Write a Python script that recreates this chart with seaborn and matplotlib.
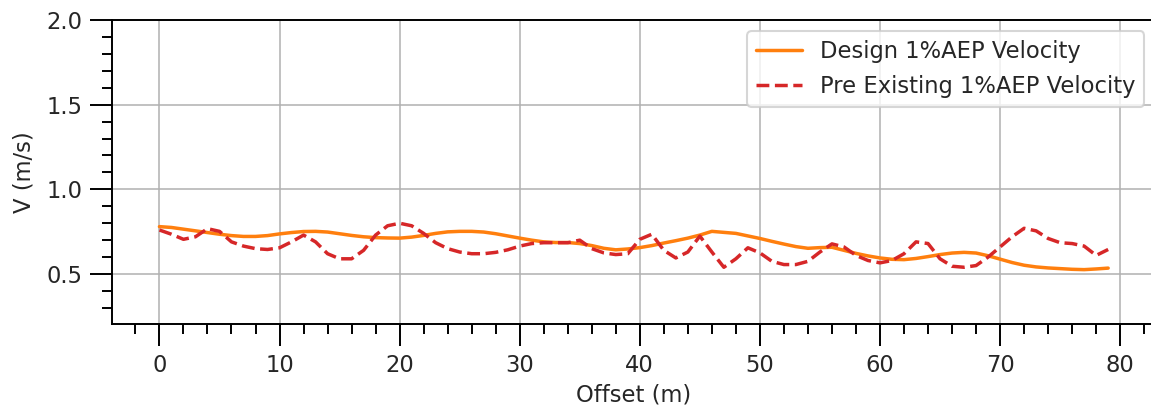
import numpy as np
import pandas as pd
import seaborn as sns
import matplotlib.pyplot as plt
from matplotlib.ticker import MultipleLocator

# Offset along the section (m)
offset = list(range(80))

# Design 1%AEP velocity (m/s)
design_v = [0.78, 0.775, 0.765, 0.755, 0.745, 0.735, 0.727, 0.722, 0.722, 0.727,
            0.737, 0.745, 0.751, 0.752, 0.748, 0.738, 0.728, 0.72, 0.715, 0.713,
            0.712, 0.718, 0.728, 0.74, 0.749, 0.752, 0.752, 0.748, 0.738, 0.725,
            0.712, 0.70, 0.69, 0.686, 0.686, 0.68, 0.668, 0.652, 0.643, 0.648,
            0.656, 0.668, 0.683, 0.697, 0.712, 0.73, 0.752, 0.746, 0.74, 0.725,
            0.71, 0.693, 0.677, 0.662, 0.652, 0.656, 0.658, 0.64, 0.622, 0.607,
            0.595, 0.587, 0.585, 0.592, 0.603, 0.615, 0.624, 0.628, 0.624, 0.608,
            0.588, 0.568, 0.552, 0.542, 0.536, 0.532, 0.528, 0.526, 0.53, 0.535]

# Pre existing 1%AEP velocity (m/s)
pre_v = [0.76, 0.735, 0.705, 0.72, 0.768, 0.752, 0.69, 0.665, 0.65, 0.645,
         0.655, 0.69, 0.73, 0.69, 0.62, 0.59, 0.59, 0.64, 0.73, 0.785,
         0.80, 0.785, 0.74, 0.685, 0.65, 0.63, 0.62, 0.62, 0.628, 0.643,
         0.665, 0.68, 0.685, 0.685, 0.685, 0.70, 0.65, 0.625, 0.615, 0.62,
         0.705, 0.735, 0.64, 0.595, 0.63, 0.724, 0.63, 0.54, 0.59, 0.655,
         0.625, 0.575, 0.556, 0.556, 0.575, 0.63, 0.678, 0.66, 0.61, 0.58,
         0.566, 0.58, 0.62, 0.69, 0.68, 0.59, 0.546, 0.54, 0.55, 0.6,
         0.66, 0.72, 0.77, 0.755, 0.71, 0.685, 0.68, 0.665, 0.61, 0.645]

df = pd.DataFrame({'offset': offset, 'design': design_v, 'pre': pre_v})

sns.set_theme(context='talk', style='ticks')
plt.rcParams['font.family'] = ['DejaVu Sans']

fig = plt.figure(figsize=(11.51, 4.08), dpi=100)
# axes run slightly past the right edge of the picture, as in the original crop
ax = fig.add_axes([112 / 1151, 84 / 408, 1043.6 / 1151, 304 / 408])

sns.lineplot(data=df, x='offset', y='design', ax=ax, color='#ff7f0e',
             linewidth=2.5, label='Design 1%AEP Velocity')
sns.lineplot(data=df, x='offset', y='pre', ax=ax, color='#d62728',
             linewidth=2.5, linestyle='--', label='Pre Existing 1%AEP Velocity')

ax.set_xlim(-3.95, 82.95)
ax.set_ylim(0.205, 2.0)
ax.xaxis.set_major_locator(MultipleLocator(10))
ax.xaxis.set_minor_locator(MultipleLocator(2))
ax.yaxis.set_major_locator(MultipleLocator(0.5))
ax.yaxis.set_minor_locator(MultipleLocator(0.1))
ax.grid(True, which='major', color='#b0b0b0', linewidth=1.1)

ax.tick_params(which='major', length=16, width=1.4, labelsize=16.3, color='black', pad=5.5)
ax.tick_params(which='minor', length=7.5, width=1.4, color='black')
for sp in ax.spines.values():
    sp.set_linewidth(1.4)
    sp.set_color('black')

ax.set_xlabel('Offset (m)', fontsize=16.3, labelpad=5)
ax.set_ylabel('V (m/s)', fontsize=16.3, labelpad=8)

leg = ax.legend(loc='upper right', fontsize=16.3, frameon=True)
leg.get_frame().set_edgecolor('#cccccc')
leg.get_frame().set_alpha(0.8)

fig.savefig('out.png', dpi=100)
